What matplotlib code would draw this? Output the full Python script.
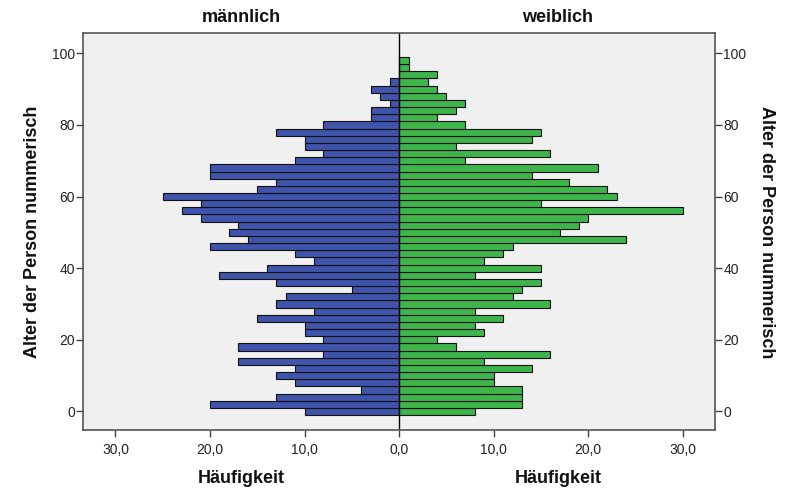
import numpy as np
import matplotlib
matplotlib.use('Agg')
import matplotlib.pyplot as plt
from matplotlib.ticker import FuncFormatter

plt.rcParams['font.family'] = ['Liberation Sans', 'DejaVu Sans']

# age classes (2-year bins, centre value)
ages = np.arange(0, 100, 2)

# frequencies, age 0 .. 98
male = [10, 20, 13, 4, 11, 13, 11, 17, 8, 17,
        8, 10, 10, 15, 9, 13, 12, 5, 13, 19,
        14, 9, 11, 20, 16, 18, 17, 21, 23, 21,
        25, 15, 13, 20, 20, 11, 8, 10, 10, 13,
        8, 3, 3, 1, 2, 3, 1, 0, 0, 0]
female = [8, 13, 13, 13, 10, 10, 14, 9, 16, 6,
          4, 9, 8, 11, 8, 16, 12, 13, 15, 8,
          15, 9, 11, 12, 24, 17, 19, 20, 30, 15,
          23, 22, 18, 14, 21, 7, 16, 6, 14, 15,
          7, 4, 6, 7, 5, 4, 3, 4, 1, 1]

x_ticks = [-30, -20, -10, 0, 10, 20, 30]
y_ticks = [0, 20, 40, 60, 80, 100]

c_male = '#3F54AA'
c_female = '#3DB54A'

fig = plt.figure(figsize=(7.91, 4.90), dpi=100)
ax = fig.add_axes([0.1053, 0.1224, 0.7986, 0.8096])
ax.set_facecolor('#F0F0F0')

ax.barh(ages, -np.array(male), height=2.0, color=c_male,
        edgecolor='#111111', linewidth=0.8)
ax.barh(ages, female, height=2.0, color=c_female,
        edgecolor='#111111', linewidth=0.8)
ax.axvline(0, color='black', lw=1.0)

ax.set_xlim(-33.4, 33.4)
ax.set_ylim(-5.2, 105.6)
ax.set_xticks(x_ticks)
ax.set_yticks(y_ticks)
ax.xaxis.set_major_formatter(
    FuncFormatter(lambda v, p: ('%.1f' % abs(v)).replace('.', ',')))
ax.tick_params(axis='both', direction='out', length=5, width=1.0,
               color='#444444', labelsize=10, labelcolor='#222222')
ax.tick_params(axis='y', left=True, right=True, labelleft=True,
               labelright=True, pad=1)
ax.tick_params(axis='x', pad=4)
for s in ax.spines.values():
    s.set_color('#555555')
    s.set_linewidth(1.2)

# titles and labels
tfont = dict(fontsize=13, fontweight='bold', color='#111111')
fig.text(241.5 / 791, 1 - 18 / 490, 'männlich', ha='center', va='center', **tfont)
fig.text(557.5 / 791, 1 - 18 / 490, 'weiblich', ha='center', va='center', **tfont)
fig.text(241 / 791, 1 - 478 / 490, 'Häufigkeit', ha='center', va='center', **tfont)
fig.text(558 / 791, 1 - 478 / 490, 'Häufigkeit', ha='center', va='center', **tfont)
fig.text(33 / 791, 1 - 232 / 490, 'Alter der Person nummerisch', rotation=90,
         ha='center', va='center', **tfont)
fig.text(767 / 791, 1 - 232 / 490, 'Alter der Person nummerisch', rotation=270,
         ha='center', va='center', **tfont)

fig.savefig('out.png', dpi=100)
